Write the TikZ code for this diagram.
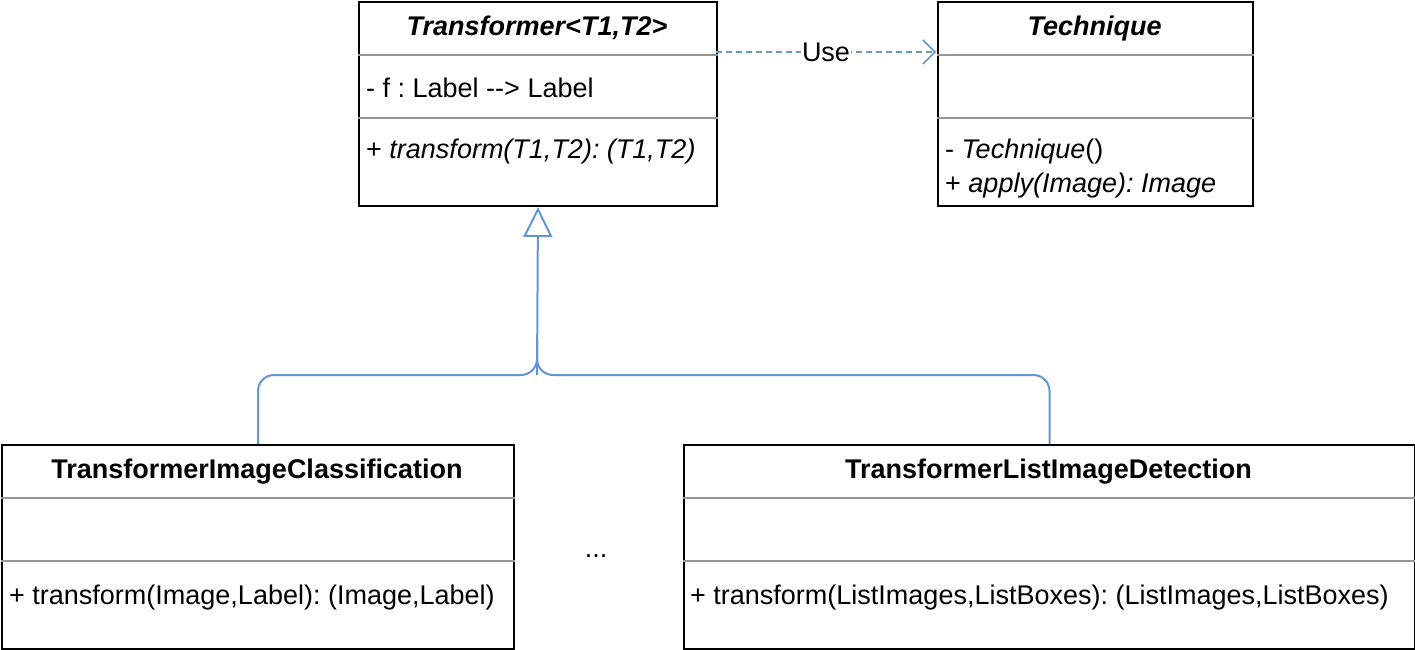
\documentclass[tikz,border=0pt]{standalone}
\usepackage{fontspec}
\setmainfont{Liberation Sans}
\frenchspacing
\usetikzlibrary{arrows.meta}
\definecolor{linkblue}{RGB}{100,150,210}
\definecolor{divgray}{RGB}{150,150,150}
\tikzset{
  classbox/.style={draw=black, line width=2pt, fill=white, inner sep=0pt, anchor=north west},
  divider/.style={draw=divgray, line width=1.5pt},
  txt/.style={inner sep=0pt, font=\fontsize{27}{32}\selectfont},
  member/.style={txt, anchor=base west},
  ctitle/.style={txt, anchor=base, font=\fontsize{27}{32}\selectfont\bfseries},
  usearrow/.style={draw=linkblue, line width=1.5pt, dash pattern=on 6pt off 4pt, -{Straight Barb[length=12pt,width=24pt,line width=1.5pt]}},
  inherit/.style={draw=linkblue, line width=2pt, rounded corners=16pt},
}
\begin{document}
\begin{tikzpicture}[x=1pt, y=-1pt]
\useasboundingbox (0,0) rectangle (1415,649);

% class boxes
\node[classbox, minimum width=358pt, minimum height=204pt] (tr) at (358,1) {};
\node[classbox, minimum width=315pt, minimum height=204pt] (te) at (937,1) {};
\node[classbox, minimum width=512pt, minimum height=204pt] (tic) at (1,444) {};
\node[classbox, minimum width=731pt, minimum height=204pt] (tld) at (683,444) {};

% dividers
\foreach \b in {tr,te,tic,tld}{
  \draw[divider] ([yshift=-54pt]\b.north west) -- ([yshift=-54pt]\b.north east);
  \draw[divider] ([yshift=-117pt]\b.north west) -- ([yshift=-117pt]\b.north east);
}

% Transformer
\node[ctitle] (trt) at (537,35) {\itshape Transformer<T1,T2>};
\node[member] (tra) at (366,97) {- f : Label -{}-> Label};
\node[member] (trm) at (366,158) {+ \itshape transform(T1,T2): (T1,T2)};

% Technique
\node[ctitle] (tet) at (1094.5,35) {\itshape Technique};
\node[member] (tem1) at (945,158) {- \textit{Technique}()};
\node[member] (tem2) at (945,192) {+ \itshape apply(Image): Image};

% TransformerImageClassification
\node[ctitle] (tict) at (257,478) {TransformerImageClassification};
\node[member] (ticm) at (9,604) {+ transform(Image,Label): (Image,Label)};

% TransformerListImageDetection
\node[ctitle] (tldt) at (1048.5,478) {TransformerListImageDetection};
\node[member] (tldm) at (690,604) {+ transform(ListImages,ListBoxes): (ListImages,ListBoxes)};

% dots
\node[txt, anchor=base] (dots) at (596,557) {...};

% Use dependency
\coordinate (us) at (716,52);
\coordinate (ue) at (936,52);
\draw[usearrow] (us) -- (ue) node[midway, fill=white, txt, inner sep=1pt, text=black] (uselbl) {Use};

% inheritance
\coordinate (j) at (537,375);
\coordinate (jup) at (537,340);
\draw[inherit] (tld.north) |- (j) -- (jup);
\draw[inherit] (tic.north) |- (j) -- (jup);
\draw[draw=linkblue, line width=2pt, -{Triangle[open,length=30pt,width=29pt,line width=2pt,fill=white]}] (j) -- (tr.south);
\end{tikzpicture}
\end{document}
